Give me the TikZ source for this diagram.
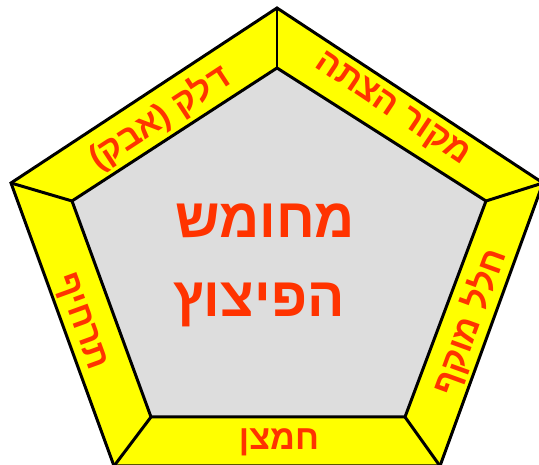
\documentclass[tikz,border=0pt]{standalone}
\usepackage{fontspec}
\newfontfamily\hebfont[Script=Hebrew]{Liberation Sans}
\TeXXeTstate=1
\definecolor{band}{RGB}{255,255,0}
\definecolor{core}{RGB}{221,221,221}
\definecolor{flame}{RGB}{255,51,0}

\begin{document}
\begin{tikzpicture}[x=0.02cm,y=0.02cm,
    edge/.style={draw=black,line width=1.7pt},
    side/.style={font=\hebfont\bfseries\fontsize{19.5}{22}\selectfont,text=flame,inner sep=0pt},
    title/.style={font=\hebfont\bfseries\fontsize{31.5}{36}\selectfont,text=flame,inner sep=0pt,anchor=base},
]
\useasboundingbox (0,0) rectangle (539,465);
% Outer corners
\coordinate (o1) at (277,457);
\coordinate (o2) at (543,282);
\coordinate (o3) at (440,-1);
\coordinate (o4) at (114,-1);
\coordinate (o5) at (11,282);
% Inner corners
\coordinate (i1) at (277,397);
\coordinate (i2) at (486,264);
\coordinate (i3) at (405,48);
\coordinate (i4) at (151,48);
\coordinate (i5) at (72,264);

% Yellow band and grey core
\filldraw[edge,fill=band] (o1) -- (o2) -- (o3) -- (o4) -- (o5) -- cycle;
\filldraw[edge,fill=core] (i1) -- (i2) -- (i3) -- (i4) -- (i5) -- cycle;
\foreach \k in {1,...,5}
    \draw[edge] (i\k) -- (o\k);

% Title
\node[title] (title1) at (265,227) {\beginR מחומש\endR};
\node[title] (title2) at (259,148) {\beginR הפיצוץ\endR};

% Side labels
\node[side,rotate=33.2] (fuel) at (160,347) {\beginR דלק (אבק)\endR};
\node[side,rotate=-33.8] (spark) at (392,355) {\beginR מקור הצתה\endR};
\node[side,rotate=70] (space) at (470,143) {\beginR חלל מוקף\endR};
\node[side,anchor=base] (oxygen) at (279,15) {\beginR חמצן\endR};
\node[side,rotate=-70] (mix) at (80,143) {\beginR תרחיף\endR};
\end{tikzpicture}
\end{document}
